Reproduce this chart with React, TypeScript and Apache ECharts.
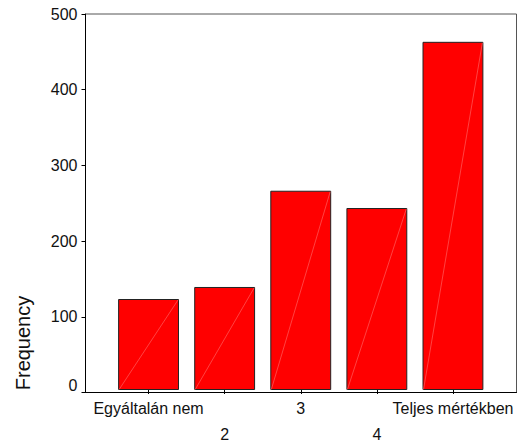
import React, { useEffect, useRef } from "react";
import * as echarts from "echarts";

const categories = ["Egyáltalán nem", "2", "3", "4", "Teljes mértékben"];
const frequencies = [121, 137, 265, 242, 463];
const yTicks = [0, 100, 200, 300, 400, 500];

const FONT = "'Liberation Sans', Arial, sans-serif";

export default function App() {
  const ref = useRef<HTMLDivElement>(null);
  useEffect(() => {
    if (!ref.current) return;
    const chart = echarts.init(ref.current, undefined, { renderer: "svg" });
    const yMin = yTicks[0];
    const yMax = yTicks[yTicks.length - 1];
    const yStep = yTicks[1] - yTicks[0];
    chart.setOption({
      animation: false,
      backgroundColor: "#fff",
      textStyle: { fontFamily: FONT },
      grid: [
        { left: 110.5, right: 33, top: 14, bottom: 54.5, containLabel: false },
        {
          left: 85.5,
          right: 7.5,
          top: 14,
          bottom: 54.5,
          containLabel: false,
          show: true,
          borderColor: "#555",
          borderWidth: 1,
          backgroundColor: "transparent",
        },
      ],
      xAxis: [
        {
          gridIndex: 0,
          type: "category",
          data: categories,
          axisLine: { show: false },
          axisTick: {
            show: true,
            alignWithLabel: true,
            length: 4,
            lineStyle: { color: "#000", width: 1 },
          },
          axisLabel: {
            interval: 0,
            color: "#111",
            fontSize: 16,
            fontFamily: FONT,
            lineHeight: 26,
            margin: 5,
            formatter: (v: string, i: number) => (i % 2 === 1 ? "\n" + v : v),
          },
          splitLine: { show: false },
          z: 10,
        },
        {
          gridIndex: 1,
          type: "value",
          min: 0,
          max: 1,
          axisLine: { show: true, lineStyle: { color: "#000", width: 1 } },
          axisTick: { show: false },
          axisLabel: { show: false },
          splitLine: { show: false },
        },
      ],
      yAxis: [
        {
          gridIndex: 0,
          type: "value",
          min: yMin,
          max: yMax,
          interval: yStep,
          show: false,
        },
        {
          gridIndex: 1,
          type: "value",
          min: yMin,
          max: yMax,
          interval: yStep,
          axisLine: { show: true, lineStyle: { color: "#000", width: 1 } },
          axisTick: { show: true, length: 4, lineStyle: { color: "#000", width: 1 } },
          axisLabel: {
            color: "#111",
            fontSize: 16,
            fontFamily: FONT,
            margin: 8,
            formatter: (v: number) => (v === 0 ? "{z|0}" : String(v)),
            rich: {
              z: { fontSize: 16, fontFamily: FONT, color: "#111", padding: [0, 0, 14, 0] },
            },
          },
          splitLine: { show: false },
        },
      ],
      series: [
        {
          type: "bar",
          xAxisIndex: 0,
          yAxisIndex: 0,
          data: frequencies,
          barWidth: "80%",
          itemStyle: { color: "#ff0000", borderColor: "#222", borderWidth: 1 },
          z: 2,
        },
        {
          type: "custom",
          xAxisIndex: 0,
          yAxisIndex: 0,
          data: frequencies.map((v, i) => [i, v]),
          z: 3,
          silent: true,
          renderItem: (params: any, api: any) => {
            const x = api.value(0);
            const v = api.value(1);
            const p0 = api.coord([x, 0]);
            const p1 = api.coord([x, v]);
            const w = api.size([1, 0])[0] * 0.8;
            return {
              type: "line",
              shape: {
                x1: p0[0] - w / 2 + 1,
                y1: p0[1] - 0.5,
                x2: p0[0] + w / 2 - 1,
                y2: p1[1] + 1,
              },
              style: { stroke: "#ff6e6e", lineWidth: 0.6 },
            };
          },
        },
      ],
      graphic: [
        {
          type: "text",
          x: 23,
          y: 343,
          rotation: Math.PI / 2,
          style: {
            text: "Frequency",
            fontSize: 20,
            fontFamily: FONT,
            fill: "#111",
            align: "center",
            verticalAlign: "middle",
          },
        },
      ],
    });
    return () => chart.dispose();
  }, []);
  return (
    <div
      ref={ref}
      style={{ position: "fixed", left: 0, top: 0, width: 524, height: 447 }}
    />
  );
}
